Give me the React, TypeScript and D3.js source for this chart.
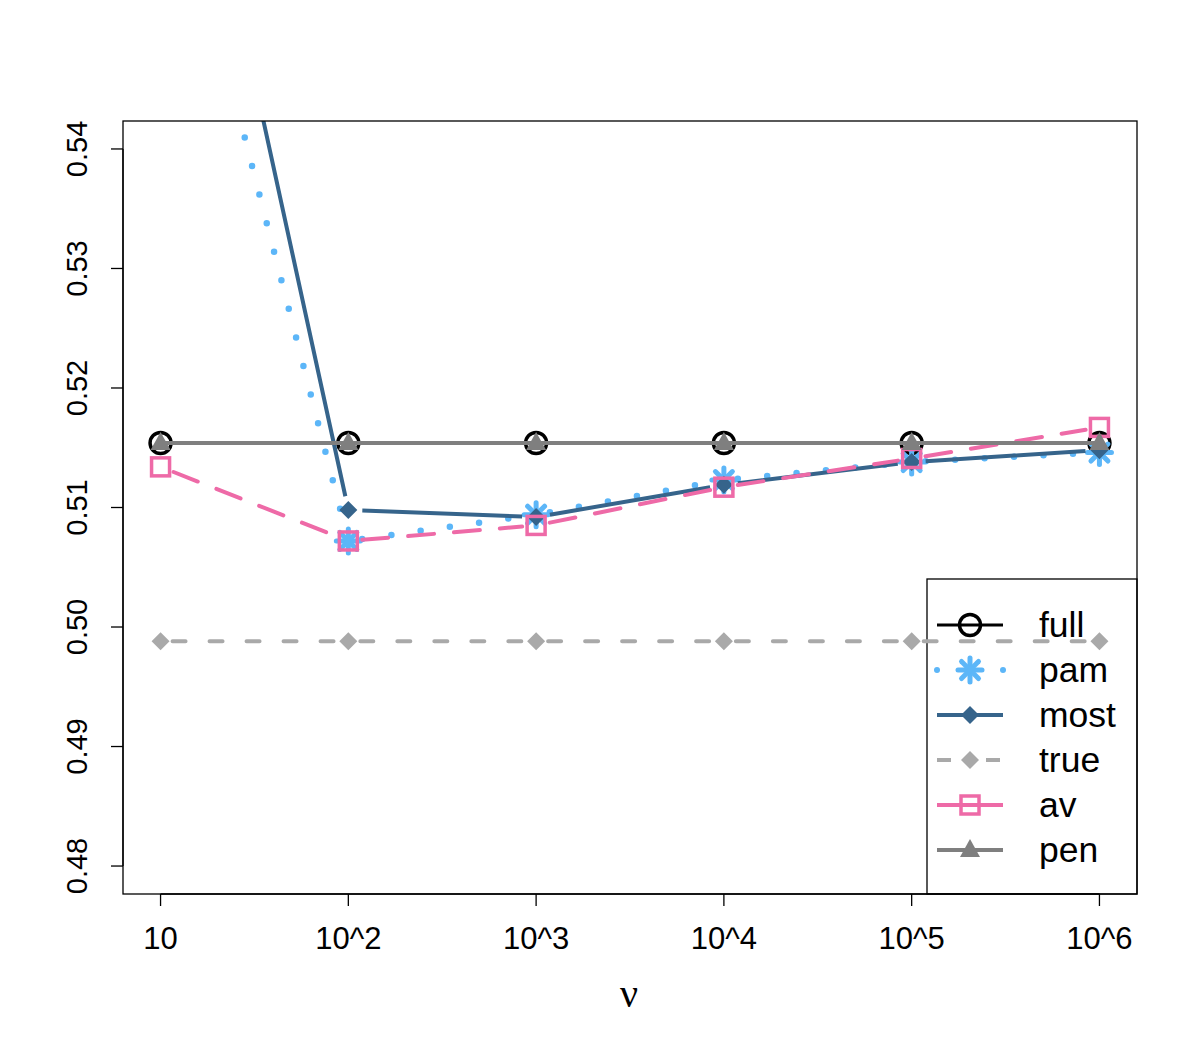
import React from 'react';
import * as d3 from 'd3';

const categories = ['10', '10^2', '10^3', '10^4', '10^5', '10^6'];
const full = [0.5154, 0.5154, 0.5154, 0.5154, 0.5154, 0.5154];
const pam = [0.5684, 0.5072, 0.5094, 0.5123, 0.5138, 0.5146];
const most = [0.5818, 0.5098, 0.5092, 0.5119, 0.5138, 0.5148];
const truth = [0.4988, 0.4988, 0.4988, 0.4988, 0.4988, 0.4988];
const av = [0.5134, 0.5072, 0.5085, 0.5117, 0.5141, 0.5167];
const pen = [0.5154, 0.5154, 0.5154, 0.5154, 0.5154, 0.5154];
const yTicks = [0.48, 0.49, 0.5, 0.51, 0.52, 0.53, 0.54];

const W = 1198;
const H = 1048;
const left = 123, right = 1137, top = 121, bottom = 894;

const x = d3.scaleLinear().domain([0.8, 6.2]).range([left, right]);
const y = d3.scaleLinear().domain([0.47766, 0.54234]).range([bottom, top]);

type Mark = 'circle' | 'star' | 'diamond' | 'square' | 'triangle';

const series = [
  { name: 'full', values: full, color: '#000000', width: 3, dash: '', mark: 'circle' as Mark, gap: 0, cap: 'butt' },
  { name: 'pam', values: pam, color: '#5CB6F8', width: 6.5, dash: '0 29.5', mark: 'star' as Mark, gap: 14, cap: 'round' },
  { name: 'most', values: most, color: '#36648B', width: 4, dash: '', mark: 'diamond' as Mark, gap: 14, cap: 'butt' },
  { name: 'true', values: truth, color: '#A9A9A9', width: 4, dash: '13 24', mark: 'diamond' as Mark, gap: 12, cap: 'round' },
  { name: 'av', values: av, color: '#EE6AA7', width: 4, dash: '26 20', mark: 'square' as Mark, gap: 14, cap: 'round' },
  { name: 'pen', values: pen, color: '#7F7F7F', width: 4, dash: '', mark: 'triangle' as Mark, gap: 0, cap: 'butt' },
];

const Marker = ({ mark, cx, cy, color }: { mark: Mark; cx: number; cy: number; color: string }) => {
  if (mark === 'circle')
    return <circle cx={cx} cy={cy} r={10.5} fill="none" stroke={color} strokeWidth={3.5} />;
  if (mark === 'diamond') {
    const s = 9;
    return <path d={`M${cx},${cy - s}L${cx + s},${cy}L${cx},${cy + s}L${cx - s},${cy}Z`} fill={color} />;
  }
  if (mark === 'square')
    return <rect x={cx - 9} y={cy - 9} width={18} height={18} fill="none" stroke={color} strokeWidth={3.5} />;
  if (mark === 'triangle') {
    const s = 10;
    return <path d={`M${cx},${cy - s * 1.1}L${cx + s},${cy + s * 0.7}L${cx - s},${cy + s * 0.7}Z`} fill={color} />;
  }
  // asterisk: + and x
  const r = 12, d = r * Math.SQRT1_2;
  return (
    <g stroke={color} strokeWidth={5} strokeLinecap="round">
      <line x1={cx - r} y1={cy} x2={cx + r} y2={cy} />
      <line x1={cx} y1={cy - r} x2={cx} y2={cy + r} />
      <line x1={cx - d} y1={cy - d} x2={cx + d} y2={cy + d} />
      <line x1={cx - d} y1={cy + d} x2={cx + d} y2={cy - d} />
    </g>
  );
};

// type "b" in R: segments stop short of each point
const gappedPath = (pts: [number, number][], gap: number) => {
  if (!gap) return d3.line()(pts) || '';
  let d = '';
  for (let i = 0; i < pts.length - 1; i++) {
    const [x1, y1] = pts[i];
    const [x2, y2] = pts[i + 1];
    const len = Math.hypot(x2 - x1, y2 - y1);
    if (len <= 2 * gap) continue;
    const ux = (x2 - x1) / len, uy = (y2 - y1) / len;
    d += `M${x1 + ux * gap},${y1 + uy * gap}L${x2 - ux * gap},${y2 - uy * gap}`;
  }
  return d;
};

const font = 'Liberation Sans, Arial, Helvetica, sans-serif';

export default function App() {
  const legendX = 927, legendY = 579;
  const rowY = (i: number) => 625 + i * 45;
  return (
    <svg width={W} height={H} style={{ display: 'block', position: 'absolute', left: 0, top: 0 }}>
      <rect width={W} height={H} fill="#fff" />
      <defs>
        <clipPath id="plotClip">
          <rect x={left} y={top} width={right - left} height={bottom - top} />
        </clipPath>
      </defs>
      {/* legend (transparent, drawn under the lines) */}
      <rect x={legendX} y={legendY} width={right - legendX} height={bottom - legendY} fill="none" stroke="#000" strokeWidth={1.3} />
      {series.map((s, i) => {
        const cy = rowY(i);
        return (
          <g key={s.name}>
            {s.name === 'pam' ? (
              <g fill={s.color}>
                <circle cx={937} cy={cy} r={3} />
                <circle cx={1003} cy={cy} r={3} />
              </g>
            ) : (
              <line
                x1={937}
                x2={1003}
                y1={cy}
                y2={cy}
                stroke={s.color}
                strokeWidth={s.width}
                strokeDasharray={s.name === 'true' ? '14 19 0 16 14' : undefined}
              />
            )}
            <Marker mark={s.mark} cx={970} cy={cy} color={s.color} />
            <text x={1039} y={cy + 12} fontFamily={font} fontSize={35.5}>
              {s.name}
            </text>
          </g>
        );
      })}
      <g clipPath="url(#plotClip)">
        {series.map((s) => {
          const pts = s.values.map((v, i) => [x(i + 1), y(v)] as [number, number]);
          return (
            <g key={s.name}>
              <path
                d={gappedPath(pts, s.gap)}
                fill="none"
                stroke={s.color}
                strokeWidth={s.width}
                strokeDasharray={s.dash || undefined}
                strokeLinecap={s.cap as any}
              />
              {pts.map(([px, py], i) => (
                <Marker key={i} mark={s.mark} cx={px} cy={py} color={s.color} />
              ))}
            </g>
          );
        })}
      </g>
      <rect x={left} y={top} width={right - left} height={bottom - top} fill="none" stroke="#000" strokeWidth={1.3} />
      {/* y axis */}
      <line x1={left} x2={left} y1={y(0.48)} y2={y(0.54)} stroke="#000" strokeWidth={1.3} />
      {yTicks.map((t) => (
        <g key={t}>
          <line x1={left - 12} x2={left} y1={y(t)} y2={y(t)} stroke="#000" strokeWidth={1.3} />
          <text
            transform={`translate(87,${y(t)}) rotate(-90)`}
            textAnchor="middle"
            fontFamily={font}
            fontSize={29}
          >
            {t.toFixed(2)}
          </text>
        </g>
      ))}
      {/* x axis */}
      <line x1={x(1)} x2={x(6)} y1={bottom} y2={bottom} stroke="#000" strokeWidth={1.3} />
      {categories.map((c, i) => (
        <g key={c}>
          <line x1={x(i + 1)} x2={x(i + 1)} y1={bottom} y2={bottom + 12} stroke="#000" strokeWidth={1.3} />
          <text x={x(i + 1)} y={949} textAnchor="middle" fontFamily={font} fontSize={31}>
            {c}
          </text>
        </g>
      ))}
      <text x={629} y={1007} textAnchor="middle" fontFamily="Liberation Serif, serif" fontSize={40}>
        ν
      </text>
    </svg>
  );
}
